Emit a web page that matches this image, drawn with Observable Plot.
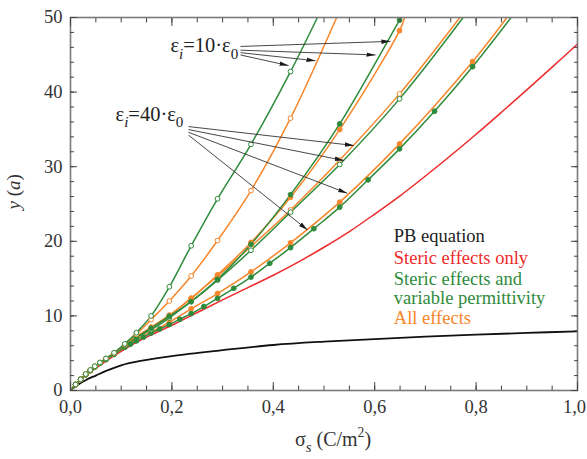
<!DOCTYPE html>
<html>
<head>
<meta charset="utf-8">
<script src="https://cdn.jsdelivr.net/npm/d3@7"></script>
<script src="https://cdn.jsdelivr.net/npm/@observablehq/plot@0.6"></script>
<style>
  html, body { margin: 0; padding: 0; background: #fff; }
  #chart svg { display: block; }
  #chart svg, #chart svg text, #chart svg tspan { font-family: "Liberation Serif", "DejaVu Serif", serif !important; }
</style>
</head>
<body>
<div id="chart"></div>
<script>
// Surface charge density σs (C/m²) against y(a) for each model.

// Poisson–Boltzmann equation
const pbSigma = [0, 0.005, 0.01, 0.02, 0.03, 0.04, 0.05, 0.07, 0.1, 0.138, 0.2, 0.3, 0.4, 0.5, 0.6, 0.7, 0.8, 0.9, 1.0];
const pbY     = [0, 0.28, 0.55, 1.0, 1.38, 1.72, 2.0, 2.62, 3.38, 3.96, 4.62, 5.4, 6.1, 6.55, 6.9, 7.22, 7.48, 7.72, 7.94];

// Steric effects only
const stericSigma = [0, 0.01, 0.02, 0.03, 0.04, 0.05, 0.07, 0.1, 0.13, 0.16, 0.2, 0.25, 0.3, 0.35, 0.4, 0.45, 0.5, 0.55, 0.6, 0.65, 0.7, 0.75, 0.8, 0.85, 0.9, 0.95, 1.0];
const stericY     = [0, 0.78, 1.45, 2.05, 2.55, 3.0, 3.95, 5.25, 6.45, 7.5, 8.75, 10.45, 12.15, 13.8, 15.45, 17.25, 19.2, 21.3, 23.65, 26.1, 28.75, 31.5, 34.35, 37.3, 40.3, 43.35, 46.45];

// εi = 10·ε0 — steric effects and variable permittivity (green) / all effects (orange)
const vp10OpenSigma   = [0, 0.01, 0.02, 0.03, 0.039, 0.048, 0.058, 0.07, 0.086, 0.107, 0.13, 0.159, 0.195, 0.238, 0.29, 0.356, 0.434, 0.487];
const vp10OpenY       = [0, 0.8, 1.5, 2.2, 2.75, 3.25, 3.75, 4.3, 5.05, 6.25, 7.75, 10.0, 13.9, 19.4, 25.7, 33.0, 42.75, 50];
const all10OpenSigma  = [0, 0.01, 0.02, 0.03, 0.039, 0.048, 0.058, 0.07, 0.086, 0.107, 0.13, 0.159, 0.195, 0.238, 0.29, 0.356, 0.434, 0.525];
const all10OpenY      = [0, 0.8, 1.5, 2.2, 2.75, 3.25, 3.75, 4.3, 5.0, 6.15, 7.55, 9.5, 12.0, 15.35, 20.1, 26.8, 36.5, 50];
const vp10FillSigma   = [0, 0.01, 0.02, 0.03, 0.039, 0.048, 0.058, 0.07, 0.086, 0.107, 0.13, 0.159, 0.195, 0.238, 0.29, 0.356, 0.434, 0.531, 0.649, 0.652];
const vp10FillY       = [0, 0.8, 1.5, 2.15, 2.7, 3.2, 3.7, 4.2, 4.95, 6.0, 7.1, 8.35, 9.95, 11.9, 14.9, 19.6, 26.25, 35.74, 49.66, 50];
const all10FillSigma  = [0, 0.01, 0.02, 0.03, 0.039, 0.048, 0.058, 0.07, 0.086, 0.107, 0.13, 0.159, 0.195, 0.238, 0.29, 0.356, 0.434, 0.531, 0.649, 0.659];
const all10FillY      = [0, 0.8, 1.5, 2.15, 2.7, 3.2, 3.7, 4.25, 5.0, 6.05, 7.25, 8.5, 10.1, 12.3, 15.5, 19.85, 25.9, 34.98, 48.23, 50];

// εi = 40·ε0
const all40OpenSigma  = [0, 0.01, 0.02, 0.03, 0.039, 0.048, 0.058, 0.07, 0.086, 0.107, 0.13, 0.159, 0.195, 0.238, 0.29, 0.356, 0.434, 0.531, 0.649, 0.768];
const all40OpenY      = [0, 0.8, 1.5, 2.15, 2.7, 3.2, 3.7, 4.25, 5.0, 6.05, 7.2, 8.35, 10.05, 12.4, 15.35, 19.3, 24.2, 30.9, 39.76, 50];
const vp40OpenSigma   = [0, 0.01, 0.02, 0.03, 0.039, 0.048, 0.058, 0.07, 0.086, 0.107, 0.13, 0.159, 0.195, 0.238, 0.29, 0.356, 0.434, 0.531, 0.649, 0.7745];
const vp40OpenY       = [0, 0.8, 1.5, 2.15, 2.7, 3.2, 3.7, 4.2, 4.95, 6.0, 7.1, 8.15, 9.75, 11.95, 14.8, 18.8, 23.9, 30.3, 39.09, 50];
const all40FillSigma  = [0, 0.01, 0.02, 0.03, 0.039, 0.048, 0.058, 0.07, 0.086, 0.107, 0.13, 0.159, 0.195, 0.238, 0.29, 0.356, 0.434, 0.531, 0.649, 0.793, 0.861];
const all40FillY      = [0, 0.8, 1.45, 2.1, 2.65, 3.15, 3.65, 4.15, 4.85, 5.85, 6.85, 7.85, 9.15, 10.95, 13.0, 15.9, 19.8, 25.25, 33.06, 44.08, 50];
const vp40FillSigma   = [0, 0.01, 0.02, 0.03, 0.039, 0.048, 0.058, 0.07, 0.086, 0.107, 0.118, 0.13, 0.144, 0.159, 0.176, 0.195, 0.2156, 0.238, 0.263, 0.29, 0.322, 0.356, 0.393, 0.434, 0.48, 0.531, 0.587, 0.649, 0.718, 0.793, 0.869];
const vp40FillY       = [0, 0.8, 1.45, 2.1, 2.65, 3.15, 3.65, 4.15, 4.85, 5.8, 6.2, 6.65, 7.15, 7.7, 8.25, 8.85, 9.55, 10.3, 11.25, 12.35, 13.7, 15.2, 17.05, 19.15, 21.69, 24.58, 28.24, 32.39, 37.43, 43.41, 50];

// Axis ticks
const xMajor = [0, 0.2, 0.4, 0.6, 0.8, 1.0];
const xMinor = d3.range(0, 1.0001, 0.05);
const yMajor = [0, 10, 20, 30, 40, 50];
const yMinor = d3.range(0, 50.001, 2);

// Legend entries
const legendText  = ["PB equation", "Steric effects only", "Steric effects and", "variable permittivity", "All effects"];

const BLACK = "#111111", RED = "#ee2a2a", GREEN = "#2e8b3c", ORANGE = "#f7862a";
const legendColor = [ "#222222", RED, GREEN, GREEN, ORANGE ];

const series = [
  {id: "pb",      color: BLACK,  marker: null,     width: 1.8, sigma: pbSigma,        y: pbY},
  {id: "steric",  color: RED,    marker: null,     width: 1.5, sigma: stericSigma,    y: stericY},
  {id: "all40f",  color: ORANGE, marker: "filled", width: 1.5, sigma: all40FillSigma, y: all40FillY},
  {id: "vp40f",   color: GREEN,  marker: "filled", width: 1.5, sigma: vp40FillSigma,  y: vp40FillY},
  {id: "all40o",  color: ORANGE, marker: "open",   width: 1.5, sigma: all40OpenSigma, y: all40OpenY},
  {id: "vp40o",   color: GREEN,  marker: "open",   width: 1.5, sigma: vp40OpenSigma,  y: vp40OpenY},
  {id: "all10f",  color: ORANGE, marker: "filled", width: 1.5, sigma: all10FillSigma, y: all10FillY},
  {id: "vp10f",   color: GREEN,  marker: "filled", width: 1.5, sigma: vp10FillSigma,  y: vp10FillY},
  {id: "all10o",  color: ORANGE, marker: "open",   width: 1.5, sigma: all10OpenSigma, y: all10OpenY},
  {id: "vp10o",   color: GREEN,  marker: "open",   width: 1.5, sigma: vp10OpenSigma,  y: vp10OpenY}
];

const rows = series.flatMap(s => s.sigma.map((v, i) => ({
  id: s.id, color: s.color, marker: s.marker, width: s.width,
  sigma: v, y: s.y[i], i, n: s.sigma.length
})));
// symbols sit on the computed points, not on the origin or the top crossing
const markerRows = rows.filter(d => d.marker && d.i > 0 && d.i < d.n - 1);

// Annotation labels and the arrows from them to the curves (in σ, y units)
const annotations = {
  labels: [
    {text: "ε_{i}=10·ε_{0}", sigma: 0.197, y: 45.33},
    {text: "ε_{i}=40·ε_{0}", sigma: 0.0888, y: 36.18}
  ],
  arrows: [
    {s1: 0.3353, y1: 46.12, s2: 0.631,  y2: 46.8},
    {s1: 0.3353, y1: 45.62, s2: 0.6016, y2: 44.98},
    {s1: 0.3353, y1: 45.29, s2: 0.4832, y2: 44.2},
    {s1: 0.3353, y1: 44.98, s2: 0.430,  y2: 43.55},
    {s1: 0.2327, y1: 35.38, s2: 0.5588, y2: 32.84},
    {s1: 0.2327, y1: 34.98, s2: 0.539,  y2: 30.83},
    {s1: 0.2327, y1: 34.62, s2: 0.5457, y2: 26.45},
    {s1: 0.2327, y1: 34.24, s2: 0.4675, y2: 21.53}
  ],
  legend: {sigma: 0.6377, y: [19.9, 17.0, 14.1, 11.55, 8.97]}
};
const legendRows = legendText.map((t, i) => ({text: t, color: legendColor[i], sigma: annotations.legend.sigma, y: annotations.legend.y[i]}));

const fmt = d => d.toFixed(1).replace(".", ",");
const TICK = "#444";
const SERIF = "Liberation Serif";
const xLabelStyle = {anchor: "bottom", tickSize: 0, tickPadding: 9, tickFormat: fmt, fill: "#333", fontSize: 18.5, fontFamily: SERIF, label: null};

const chart = Plot.plot({
  width: 587,
  height: 459,
  marginLeft: 70,
  marginRight: 10,
  marginTop: 17,
  marginBottom: 69,
  style: {fontFamily: SERIF, fontSize: "18px", color: "#333", background: "#fff"},
  x: {domain: [0, 1], label: null},
  y: {domain: [0, 50], label: null},
  marks: [
    Plot.line(rows, {x: "sigma", y: "y", z: "id", stroke: "color", strokeWidth: "width", curve: "catmull-rom", clip: true}),
    Plot.dot(markerRows, {x: "sigma", y: "y", r: 2.4, stroke: "color", strokeWidth: 1,
      fill: d => d.marker === "open" ? "#ffffff" : d.color, clip: true}),
    Plot.link(annotations.arrows, {x1: "s1", y1: "y1", x2: "s2", y2: "y2", stroke: "#333", strokeWidth: 0.9, markerEnd: "arrow"}),
    Plot.text(annotations.labels, {x: "sigma", y: "y", text: "text", textAnchor: "start", lineAnchor: "bottom", fontSize: 20.5, fontFamily: SERIF, fill: "#222"}),
    Plot.text(legendRows, {x: "sigma", y: "y", text: "text", fill: "color", textAnchor: "start", lineAnchor: "bottom", fontSize: 18.5, fontFamily: SERIF}),
    Plot.frame({stroke: "#7a7a7a", strokeWidth: 1.6}),
    // tick labels (the last one nudged inside the page edge)
    Plot.axisX(xMajor.slice(0, -1), xLabelStyle),
    Plot.axisX(xMajor.slice(-1), {...xLabelStyle, dx: -3}),
    Plot.axisY(yMajor, {anchor: "left", tickSize: 0, tickPadding: 8, fill: "#333", fontSize: 18.5, fontFamily: SERIF, label: null}),
    // inward ticks on all four sides
    Plot.axisX(xMajor, {anchor: "bottom", tickSize: -8, tickFormat: () => "", stroke: TICK, label: null}),
    Plot.axisX(xMinor, {anchor: "bottom", tickSize: -4.5, tickFormat: () => "", stroke: TICK, label: null}),
    Plot.axisX(xMajor, {anchor: "top", tickSize: -8, tickFormat: () => "", stroke: TICK, label: null}),
    Plot.axisX(xMinor, {anchor: "top", tickSize: -4.5, tickFormat: () => "", stroke: TICK, label: null}),
    Plot.axisY(yMajor, {anchor: "left", tickSize: -7, tickFormat: () => "", stroke: TICK, label: null}),
    Plot.axisY(yMinor, {anchor: "left", tickSize: -4, tickFormat: () => "", stroke: TICK, label: null}),
    Plot.axisY(yMajor, {anchor: "right", tickSize: -7, tickFormat: () => "", stroke: TICK, label: null}),
    Plot.axisY(yMinor, {anchor: "right", tickSize: -4, tickFormat: () => "", stroke: TICK, label: null}),
    // axis titles
    Plot.text(["*y* (*a*)"], {frameAnchor: "left", rotate: -90, dx: -57, dy: 5.5, fontSize: 19, fontFamily: SERIF, fill: "#333"}),
    Plot.text(["σ_{s} (C/m^{2})"], {frameAnchor: "bottom", lineAnchor: "bottom", dx: 9, dy: 55, fontSize: 20, fontFamily: SERIF, fill: "#333"})
  ]
});

document.getElementById("chart").appendChild(chart);

// Sub-/superscripts and italics inside text marks: _{..}, ^{..}, *..*
const SVGNS = "http://www.w3.org/2000/svg";
chart.querySelectorAll("text").forEach(t => {
  const s = t.textContent;
  if (!/[_^]\{|\*/.test(s)) return;
  const fs = parseFloat(getComputedStyle(t).fontSize) || 18;
  t.textContent = "";
  const parts = s.split(/(_\{[^}]*\}|\^\{[^}]*\}|\*[^*]*\*)/).filter(p => p);
  let shift = 0;
  for (const p of parts) {
    const ts = document.createElementNS(SVGNS, "tspan");
    let target = 0, content = p;
    if (p.startsWith("_{")) {
      content = p.slice(2, -1);
      target = 0.33 * fs;
      ts.setAttribute("font-size", 0.74 * fs);
      if (/[a-z]/i.test(content)) ts.setAttribute("font-style", "italic");
    } else if (p.startsWith("^{")) {
      content = p.slice(2, -1);
      target = -0.42 * fs;
      ts.setAttribute("font-size", 0.68 * fs);
    } else if (p.startsWith("*")) {
      content = p.slice(1, -1);
      ts.setAttribute("font-style", "italic");
    }
    if (target - shift) ts.setAttribute("dy", target - shift);
    shift = target;
    ts.textContent = content;
    t.appendChild(ts);
  }
});

// Filled arrowheads for the annotation arrows
chart.querySelectorAll("marker").forEach(m => {
  m.setAttribute("viewBox", "-9 -4.5 9 9");
  m.setAttribute("markerWidth", 9);
  m.setAttribute("markerHeight", 9);
  m.setAttribute("markerUnits", "userSpaceOnUse");
  m.setAttribute("refX", 0);
  m.setAttribute("refY", 0);
  m.setAttribute("fill", "#1a1a1a");
  m.setAttribute("stroke", "none");
  while (m.firstChild) m.removeChild(m.firstChild);
  const p = document.createElementNS(SVGNS, "path");
  p.setAttribute("d", "M-9,-2.2L0,0L-9,2.2Z");
  m.appendChild(p);
});
</script>
</body>
</html>
